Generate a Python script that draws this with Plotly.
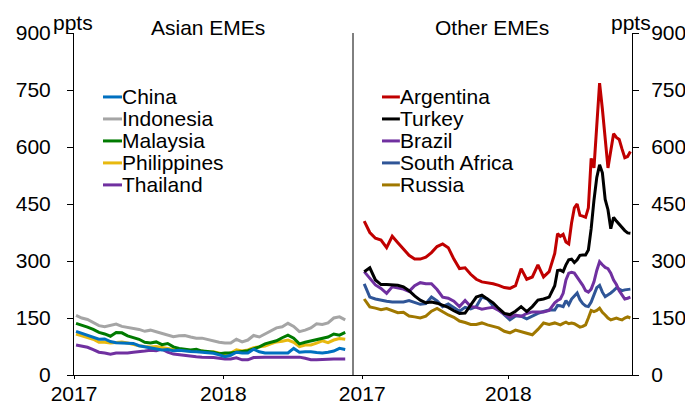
"""EME spreads chart - two panels, Asian EMEs vs other EMEs."""
import pandas as pd
import plotly.graph_objects as go

# fortnightly observations for the Asian panel
dates_asia = pd.date_range('2017-01-06', periods=48, freq='14D')

# fortnightly to late April 2018, then weekly for the other EMEs
dates_other = list(pd.date_range('2017-01-06', '2018-04-20', freq='14D')) + \
    list(pd.date_range('2018-04-27', '2018-11-02', freq='7D'))

china = [115, 110, 105, 101, 94, 95, 88, 85, 84, 84, 83, 77, 74, 71, 69, 66,
         67, 64, 65, 63, 62, 61, 60, 58, 57, 53, 48, 52, 60, 58, 58, 68,
         61, 58, 58, 58, 58, 58, 70, 60, 61, 61, 59, 58, 60, 63, 70, 67]
indonesia = [157, 150, 146, 138, 130, 127, 131, 134, 128, 125, 124, 120, 115, 118, 114, 110,
             105, 101, 103, 104, 100, 97, 97, 93, 90, 86, 84, 84, 94, 87, 92, 104,
             100, 108, 118, 124, 127, 136, 128, 114, 118, 124, 135, 133, 137, 150, 153, 145]
malaysia = [136, 132, 126, 120, 112, 108, 102, 112, 111, 103, 99, 94, 86, 84, 87, 80,
            83, 74, 70, 68, 66, 68, 63, 62, 60, 56, 58, 58, 61, 62, 64, 68,
            74, 82, 87, 90, 98, 105, 97, 82, 86, 89, 94, 97, 100, 108, 105, 112]
philippines = [108, 104, 100, 94, 86, 86, 84, 85, 87, 84, 80, 77, 75, 74, 75, 72,
               70, 67, 66, 65, 63, 62, 63, 60, 61, 58, 54, 58, 66, 63, 66, 72,
               74, 76, 82, 87, 89, 92, 86, 75, 79, 79, 84, 90, 85, 92, 96, 94]
thailand = [79, 76, 73, 67, 60, 58, 55, 58, 58, 58, 60, 61, 63, 65, 64, 68,
            60, 55, 53, 52, 50, 48, 47, 47, 46, 44, 42, 42, 45, 40, 40, 46,
            47, 47, 47, 47, 47, 47, 47, 47, 44, 40, 40, 41, 42, 42, 42, 42]

argentina = [405, 375, 360, 355, 335, 365, 348, 332, 315, 305, 305, 310, 322, 338, 345, 335,
             305, 280, 282, 265, 252, 245, 243, 240, 236, 230, 228, 235, 280, 252, 258, 290,
             258, 272, 320,
             372, 365, 370, 350, 345, 400, 440, 450, 420, 418, 415, 440, 570, 545, 650, 768,
             700, 615, 545, 590, 635, 625, 620, 595, 572, 575, 588]
turkey = [272, 282, 250, 238, 238, 237, 236, 232, 222, 208, 197, 190, 192, 189, 184, 178,
          169, 162, 163, 185, 205, 210, 200, 190, 175, 162, 159, 168, 180, 167, 180, 197,
          200, 205, 235,
          275, 276, 272, 290, 303, 305, 296, 303, 315, 316, 316, 329, 385, 460, 520, 553,
          532, 462, 435, 385, 415, 405, 396, 388, 380, 374, 373]
brazil = [272, 253, 237, 228, 215, 232, 229, 226, 220, 235, 243, 240, 240, 225, 205, 202,
          194, 180, 196, 180, 178, 173, 176, 178, 170, 160, 152, 158, 154, 162, 166, 166,
          166, 170, 190,
          196, 200, 215, 250, 268, 270, 268, 258, 248, 236, 222, 218, 226, 245, 275, 298,
          290, 283, 280, 268, 250, 238, 222, 210, 200, 202, 205]
south_africa = [240, 205, 200, 196, 194, 192, 192, 192, 196, 192, 186, 188, 205, 195, 180, 187,
                178, 168, 178, 174, 180, 205, 200, 182, 172, 158, 145, 155, 155, 148, 156, 162,
                167, 171, 171,
                183, 182, 180, 196, 185, 200, 208, 216, 198, 188, 182, 180, 192, 210, 230, 236,
                218, 206, 210, 216, 222, 229, 226, 222, 224, 225, 226]
russia = [200, 179, 176, 172, 175, 170, 164, 165, 155, 153, 150, 155, 168, 175, 166, 158,
          152, 142, 138, 133, 133, 137, 132, 128, 124, 115, 111, 118, 113, 110, 106, 120,
          137, 133, 137,
          135, 132, 136, 139, 135, 137, 135, 130, 126, 128, 132, 150, 170, 167, 170, 176,
          165, 158, 150, 145, 147, 150, 147, 145, 150, 153, 150]

asia_series = [
    ('China', china, '#0070C0'),
    ('Indonesia', indonesia, '#A5A5A5'),
    ('Malaysia', malaysia, '#007A00'),
    ('Philippines', philippines, '#E8B90F'),
    ('Thailand', thailand, '#7030A0'),
]
other_series = [
    ('Argentina', argentina, '#C00000'),
    ('Turkey', turkey, '#000000'),
    ('Brazil', brazil, '#7030A0'),
    ('South Africa', south_africa, '#2F5597'),
    ('Russia', russia, '#A07800'),
]

y_ticks = [0, 150, 300, 450, 600, 750, 900]
FONT = 'Liberation Sans, Arial, sans-serif'

fig = go.Figure()

# draw back to front so the first legend entry sits on top
for name, vals, color in reversed(asia_series):
    fig.add_trace(go.Scatter(x=dates_asia, y=vals, name=name, mode='lines',
                             line=dict(color=color, width=3), xaxis='x', yaxis='y'))
for name, vals, color in reversed(other_series):
    fig.add_trace(go.Scatter(x=dates_other, y=vals, name=name, mode='lines',
                             line=dict(color=color, width=3), xaxis='x2', yaxis='y2'))

annotations = []
shapes = []

# hand-made legends (tight row spacing like the original)
row_top, row_step = 0.813, 0.0643
for x0, x1, series in [(0.052, 0.086, asia_series), (0.552, 0.584, other_series)]:
    for i, (name, _, color) in enumerate(series):
        yy = row_top - i * row_step
        shapes.append(dict(type='line', xref='paper', yref='paper', x0=x0, x1=x1,
                           y0=yy, y1=yy, line=dict(color=color, width=3)))
        annotations.append(dict(text=name, xref='paper', yref='paper', x=x1, y=yy,
                                xanchor='left', yanchor='middle', showarrow=False,
                                xshift=-2, font=dict(size=21, color='black')))

# panel titles and units
annotations += [
    dict(text='Asian EMEs', xref='paper', yref='paper', x=0.24, y=1.0175,
         xanchor='center', yanchor='middle', showarrow=False, font=dict(size=21)),
    dict(text='Other EMEs', xref='paper', yref='paper', x=0.749, y=1.0175,
         xanchor='center', yanchor='middle', showarrow=False, font=dict(size=21)),
    dict(text='ppts', xref='paper', yref='paper', x=-0.002, y=1.07,
         xanchor='center', yanchor='top', showarrow=False, font=dict(size=21)),
    dict(text='ppts', xref='paper', yref='paper', x=0.998, y=1.07,
         xanchor='center', yanchor='top', showarrow=False, font=dict(size=21)),
]

# divider between the panels
shapes.append(dict(type='line', xref='paper', yref='paper', x0=0.5, x1=0.5, y0=0, y1=1,
                   line=dict(color='black', width=1)))

axis_common = dict(showgrid=False, zeroline=False, showline=True, linecolor='black',
                   linewidth=1, ticks='outside', tickcolor='black', automargin=False,
                   tickfont=dict(size=21, color='black'))

# page body adds an 8px offset, so the figure is 8px smaller on each axis
fig.update_layout(
    width=685, height=396,
    margin=dict(l=66, r=61, t=25, b=29),
    paper_bgcolor='white', plot_bgcolor='white',
    font=dict(family=FONT, color='black'),
    showlegend=False,
    annotations=annotations,
    shapes=shapes,
    xaxis=dict(domain=[0, 0.5], range=['2017-01-01', '2018-11-14'], type='date',
               tick0='2017-01-01', dtick='M12', tickformat='%Y', ticklen=3,
               ticklabelstandoff=-3, anchor='y', **axis_common),
    xaxis2=dict(domain=[0.5, 1], range=['2016-12-09', '2018-11-06'], type='date',
                tick0='2017-01-01', dtick='M12', tickformat='%Y', ticklen=3,
                ticklabelstandoff=-3, anchor='y2', **axis_common),
    yaxis=dict(range=[0, 900], tickvals=y_ticks, ticklen=6, anchor='x',
               ticklabelstandoff=12, **axis_common),
    yaxis2=dict(range=[0, 900], tickvals=y_ticks, ticklen=6, anchor='x2',
                side='right', ticklabelstandoff=8, **axis_common),
)

fig.write_html("out.html")
